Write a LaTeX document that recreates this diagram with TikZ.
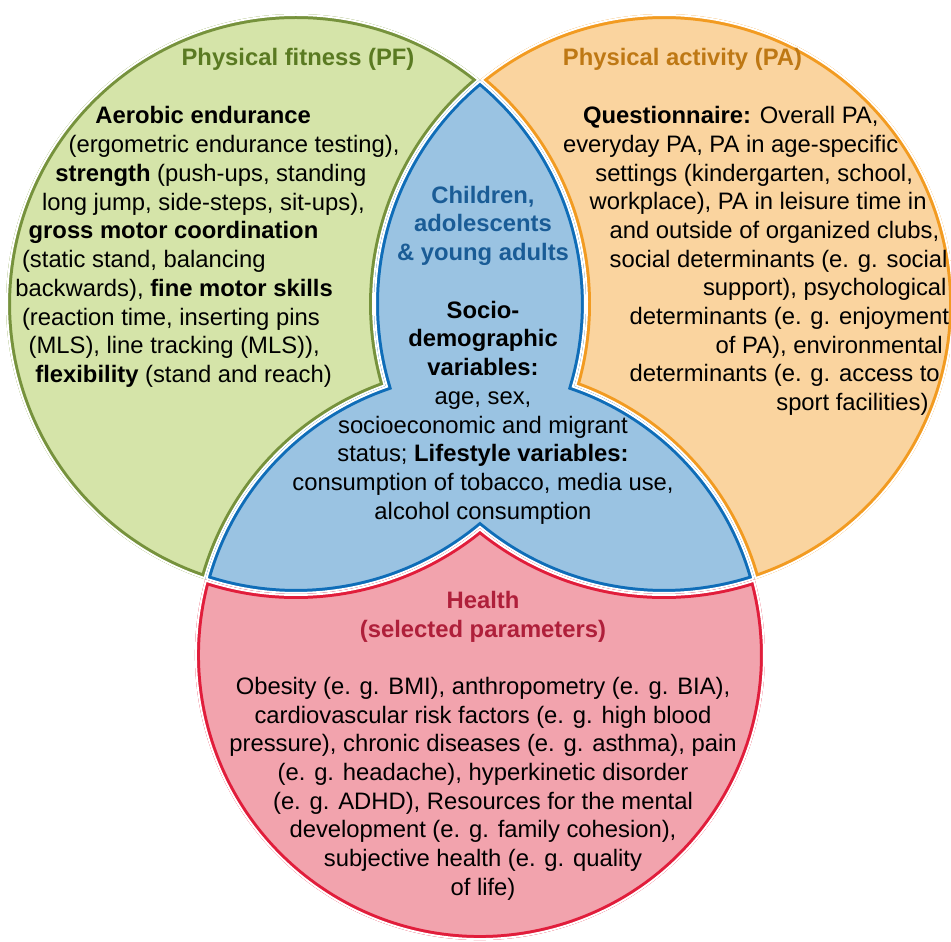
\documentclass[tikz,border=0pt]{standalone}
\usepackage{fontspec}
\setmainfont{Liberation Sans}
\usepackage{xcolor}
\usepackage{tikz}

\definecolor{pffill}{HTML}{D5E4A9}
\definecolor{pfline}{HTML}{76923C}
\definecolor{pftext}{HTML}{5A7A22}
\definecolor{pafill}{HTML}{FAD49F}
\definecolor{paline}{HTML}{F29B21}
\definecolor{patext}{HTML}{BE7814}
\definecolor{cyfill}{HTML}{9AC3E2}
\definecolor{cyline}{HTML}{0F6DB8}
\definecolor{cytext}{HTML}{1A5C96}
\definecolor{hlfill}{HTML}{F2A3AD}
\definecolor{hlline}{HTML}{E11D3B}
\definecolor{hltext}{HTML}{AF1F3A}

% the four regions of the three circles
\newcommand{\pfpath}{(480,79.85)
	arc[start angle=-50.62, end angle=-251.76, radius=290]
	arc[start angle=195.38, end angle=250.71, radius=285]
	arc[start angle=163.57, end angle=230.62, radius=290] -- cycle}
\newcommand{\papath}{(480,79.85)
	arc[start angle=-50.62, end angle=16.43, radius=290]
	arc[start angle=-70.71, end angle=-15.38, radius=285]
	arc[start angle=71.76, end angle=-129.38, radius=290] -- cycle}
\newcommand{\cypath}{(480,79.85)
	arc[start angle=230.62, end angle=163.57, radius=290]
	arc[start angle=-109.29, end angle=-164.62, radius=285]
	arc[start angle=108.24, end angle=50.62, radius=290]
	arc[start angle=129.38, end angle=71.76, radius=290]
	arc[start angle=-15.38, end angle=-70.71, radius=285]
	arc[start angle=16.43, end angle=-50.62, radius=290] -- cycle}
\newcommand{\hlpath}{(205.21,579.43)
	arc[start angle=108.24, end angle=50.62, radius=290]
	arc[start angle=129.38, end angle=71.76, radius=290]
	arc[start angle=-15.38, end angle=195.38, radius=285] -- cycle}

\tikzset{
	txt/.style={font=\fontsize{13.55pt}{16.3pt}\selectfont, inner sep=0pt},
	ttl/.style={font=\fontsize{13.55pt}{16.3pt}\selectfont\bfseries, inner sep=0pt},
	rimline/.style={line width=0.2cm, #1},
	gapline/.style={white, line width=0.08cm}
}

\begin{document}
\begin{tikzpicture}[x=0.02cm, y=-0.02cm]

	\useasboundingbox (0,0) rectangle (951,942);

	\begin{scope}
		\clip \pfpath;
		\fill[pffill] \pfpath;
		\draw[rimline=pfline] \pfpath;
		\draw[gapline] \pfpath;
	\end{scope}
	\begin{scope}
		\clip \papath;
		\fill[pafill] \papath;
		\draw[rimline=paline] \papath;
		\draw[gapline] \papath;
	\end{scope}
	\begin{scope}
		\clip \cypath;
		\fill[cyfill] \cypath;
		\draw[rimline=cyline] \cypath;
		\draw[gapline] \cypath;
	\end{scope}
	\begin{scope}
		\clip \hlpath;
		\fill[hlfill] \hlpath;
		\draw[rimline=hlline] \hlpath;
		\draw[gapline] \hlpath;
	\end{scope}

	% physical fitness
	\node[ttl, pftext, anchor=base] (pftitle) at (298,65.7) {Physical fitness (PF)};
	\node[txt, anchor=base west] (pf1) at (95,124) {\textbf{Aerobic endurance}};
	\node[txt, anchor=base west] (pf2) at (68.3,152.7) {(ergometric endurance testing),};
	\node[txt, anchor=base west] (pf3) at (55,181.5) {\textbf{strength} (push-ups, standing};
	\node[txt, anchor=base west] (pf4) at (41.7,210.2) {long jump, side-steps, sit-ups),};
	\node[txt, anchor=base west] (pf5) at (28.3,239) {\textbf{gross motor coordination}};
	\node[txt, anchor=base west] (pf6) at (21.7,267.7) {(static stand, balancing};
	\node[txt, anchor=base west] (pf7) at (15,296.4) {backwards), \textbf{fine motor skills}};
	\node[txt, anchor=base west] (pf8) at (21.7,325.2) {(reaction time, inserting pins};
	\node[txt, anchor=base west] (pf9) at (28.3,353.9) {(MLS), line tracking (MLS)),};
	\node[txt, anchor=base west] (pf10) at (35,382.7) {\textbf{flexibility} (stand and reach)};

	% physical activity
	\node[ttl, patext, anchor=base] (patitle) at (682.5,65.7) {Physical activity (PA)};
	\node[txt, anchor=base west] (pa1) at (582.7,124) {\textbf{Questionnaire:} Overall PA,};
	\node[txt, anchor=base west] (pa2) at (562.7,152.7) {everyday PA, PA in age-specific};
	\node[txt, anchor=base west] (pa3) at (595,181.3) {settings (kindergarten, school,};
	\node[txt, anchor=base west] (pa4) at (589.3,210) {workplace), PA in leisure time in};
	\node[txt, anchor=base west] (pa5) at (609.3,238.7) {and outside of organized clubs,};
	\node[txt, anchor=base west] (pa6) at (609.3,267.4) {social determinants (e. g. social};
	\node[txt, anchor=base west] (pa7) at (702.7,296) {support), psychological};
	\node[txt, anchor=base west] (pa8) at (629.3,324.7) {determinants (e. g. enjoyment};
	\node[txt, anchor=base west] (pa9) at (715.3,353.4) {of PA), environmental};
	\node[txt, anchor=base west] (pa10) at (629.3,382) {determinants (e. g. access to};
	\node[txt, anchor=base west] (pa11) at (776,410.7) {sport facilities)};

	% children, adolescents and young adults
	\node[ttl, cytext, anchor=base] (cy1) at (483,203.3) {Children,};
	\node[ttl, cytext, anchor=base] (cy2) at (483,232) {adolescents};
	\node[ttl, cytext, anchor=base] (cy3) at (483,260.7) {\& young adults};
	\node[ttl, anchor=base] (cy4) at (483,318.3) {Socio-};
	\node[ttl, anchor=base] (cy5) at (483,347) {demographic};
	\node[ttl, anchor=base] (cy6) at (483,375.7) {variables:};
	\node[txt, anchor=base] (cy7) at (483,404.4) {age, sex,};
	\node[txt, anchor=base] (cy8) at (483,433.1) {socioeconomic and migrant};
	\node[txt, anchor=base] (cy9) at (483,461.8) {status; \textbf{Lifestyle variables:}};
	\node[txt, anchor=base] (cy10) at (483,490.5) {consumption of tobacco, media use,};
	\node[txt, anchor=base] (cy11) at (483,519.2) {alcohol consumption};

	% health
	\node[ttl, hltext, anchor=base] (hltitle) at (483,608.7) {Health};
	\node[ttl, hltext, anchor=base] (hlsub) at (483,637.4) {(selected parameters)};
	\node[txt, anchor=base] (hl1) at (483,694.8) {Obesity (e. g. BMI), anthropometry (e. g. BIA),};
	\node[txt, anchor=base] (hl2) at (483,723.4) {cardiovascular risk factors (e. g. high blood};
	\node[txt, anchor=base] (hl3) at (483,752) {pressure), chronic diseases (e. g. asthma), pain};
	\node[txt, anchor=base] (hl4) at (483,780.6) {(e. g. headache), hyperkinetic disorder};
	\node[txt, anchor=base] (hl5) at (483,809.2) {(e. g. ADHD), Resources for the mental};
	\node[txt, anchor=base] (hl6) at (483,837.8) {development (e. g. family cohesion),};
	\node[txt, anchor=base] (hl7) at (483,866.4) {subjective health (e. g. quality};
	\node[txt, anchor=base] (hl8) at (483,895) {of life)};

\end{tikzpicture}
\end{document}
